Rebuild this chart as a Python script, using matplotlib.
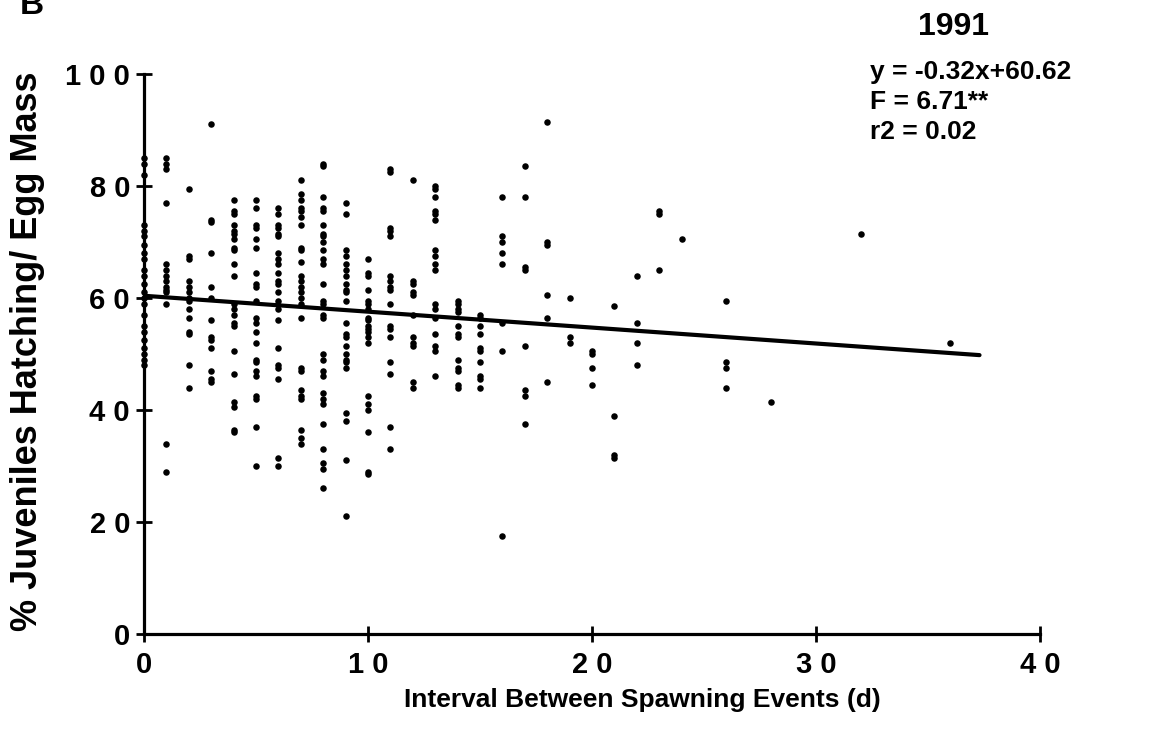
import numpy as np
import matplotlib.pyplot as plt

# interval between spawning events (d) and % hatching for each egg mass
days = [0, 1, 2, 3, 4, 5, 6, 7, 8, 9, 10, 11, 12, 13, 14, 15, 16, 17, 18,
        19, 20, 21, 22, 23, 24, 26, 28, 32, 36]
pct = [
    [85, 84, 82, 73, 72, 71, 69.5, 68, 67, 65, 64, 62.5, 61, 60, 59, 57, 55, 54, 52.5, 51, 50, 49, 48],
    [85, 84, 83, 77, 66, 65, 64, 63, 62, 61.5, 61, 59, 34, 29],
    [79.5, 67.5, 67, 63, 62, 61, 60, 59.5, 58, 56.5, 54, 53.5, 48, 44],
    [91, 74, 73.5, 68, 62, 60, 56, 53, 52.5, 51, 47, 45.5, 45],
    [77.5, 75.5, 75, 73, 72, 71.5, 70.5, 69, 68.5, 66, 64, 59, 58, 57, 55.5, 55, 50.5, 46.5,
     41.5, 40.5, 36.5, 36],
    [77.5, 76, 73, 72.5, 70.5, 69, 64.5, 62.5, 62, 59.5, 56.5, 55.5, 54, 52, 49, 48.5, 47, 46,
     42.5, 42, 37, 30],
    [76, 75, 73, 72.5, 71.5, 71, 68, 67, 66, 64.5, 63, 62.5, 61, 59.5, 58, 56, 51, 48, 47.5,
     45.5, 31.5, 30],
    [81, 78.5, 77.5, 76, 75.5, 74.5, 73, 69, 68.5, 66.5, 64, 63, 62, 61, 60, 59, 56.5, 47.5, 47,
     43.5, 42.5, 42, 36.5, 35, 34],
    [84, 83.5, 78, 76, 75.5, 73, 71.5, 71, 70, 68.5, 67, 66, 62.5, 59.5, 59, 57, 56.5, 50, 49,
     47, 46, 43, 42, 41, 37.5, 33, 30.5, 29.5, 26],
    [77, 75, 68.5, 67.5, 66, 65, 64, 62.5, 61.5, 61, 59.5, 55.5, 53.5, 53, 51.5, 50, 49, 48.5,
     47.5, 39.5, 38, 31, 21],
    [67, 64.5, 64, 61.5, 59.5, 59, 58, 56.5, 56, 55, 54.5, 54, 53, 52, 42.5, 41, 40, 36, 29, 28.5],
    [83, 82.5, 72.5, 72, 71, 64, 63, 62, 61.5, 59, 55, 54.5, 53, 48.5, 46.5, 37, 33],
    [81, 63, 62.5, 61, 60.5, 57, 53, 52, 51.5, 45, 44],
    [80, 79.5, 78, 75.5, 75, 74, 68.5, 67.5, 66, 65, 59, 58, 56.5, 53.5, 51.5, 50.5, 46],
    [59.5, 59, 58, 57.5, 55, 53.5, 53, 49, 47.5, 47, 44.5, 44],
    [57, 56.5, 55, 53.5, 51, 50.5, 48.5, 46, 45.5, 44],
    [78, 71, 70, 68, 66, 55.5, 50.5, 17.5],
    [83.5, 78, 65.5, 65, 51.5, 43.5, 42.5, 37.5],
    [91.5, 70, 69.5, 60.5, 56.5, 45],
    [60, 53, 52],
    [50.5, 50, 47.5, 44.5],
    [58.5, 39, 32, 31.5],
    [64, 55.5, 52, 48],
    [75.5, 75, 65],
    [70.5],
    [59.5, 48.5, 47.5, 44],
    [41.5],
    [71.5],
    [52],
]

# regression line as drawn
fit_x = [0, 37.3]
fit_y = [60.4, 49.8]

y_ticks = [0, 20, 40, 60, 80, 100]
y_ticklabels = ["0", "2 0", "4 0", "6 0", "8 0", "1 0 0"]
x_ticks = [0, 10, 20, 30, 40]
x_ticklabels = ["0", "1 0", "2 0", "3 0", "4 0"]

stats_lines = ["y = -0.32x+60.62", "F = 6.71**", "r2 = 0.02"]

plt.rcParams['font.family'] = ['Liberation Sans', 'DejaVu Sans']
plt.rcParams['font.weight'] = 'bold'

fig = plt.figure(figsize=(11.65, 7.36), dpi=100)
ax = fig.add_axes([144 / 1165, 1 - 634 / 736, 896 / 1165, 560 / 736])

xs = np.concatenate([[d] * len(v) for d, v in zip(days, pct)])
ys = np.concatenate(pct)
ax.scatter(xs, ys, s=22, color='black', linewidths=0, zorder=3, clip_on=False)
ax.plot(fit_x, fit_y, color='black', lw=3, solid_capstyle='round', zorder=2)

ax.set_xlim(0, 40)
ax.set_ylim(0, 100)
for side in ['top', 'right']:
    ax.spines[side].set_visible(False)
for side in ['left', 'bottom']:
    ax.spines[side].set_linewidth(2.3)

ax.set_xticks(x_ticks)
ax.set_xticklabels(x_ticklabels)
ax.set_yticks(y_ticks)
ax.set_yticklabels(y_ticklabels)
ax.tick_params(direction='inout', length=12, width=2, labelsize=21, pad=4)
ax.tick_params(axis='x', pad=6)

fig.text(642 / 1165, 1 - 700 / 736, "Interval Between Spawning Events (d)",
         ha='center', va='center', fontsize=19, fontweight='bold')
fig.text(28 / 1165, 1 - 351 / 736, "% Juveniles Hatching/ Egg Mass",
         ha='center', va='center', rotation=90, fontsize=26, fontweight='bold')
fig.text(953 / 1165, 1 - 27 / 736, "1991", ha='center', va='center',
         fontsize=23, fontweight='bold')
for i, line in enumerate(stats_lines):
    fig.text(870 / 1165, 1 - (72 + 30 * i) / 736, line, ha='left', va='center',
             fontsize=19, fontweight='bold')
# panel letter, partly cut by the top edge as in the source figure
fig.text(32 / 1165, 1 - 6 / 736, "B", ha='center', va='center', fontsize=24, fontweight='bold')

fig.savefig('out.png', dpi=100)
